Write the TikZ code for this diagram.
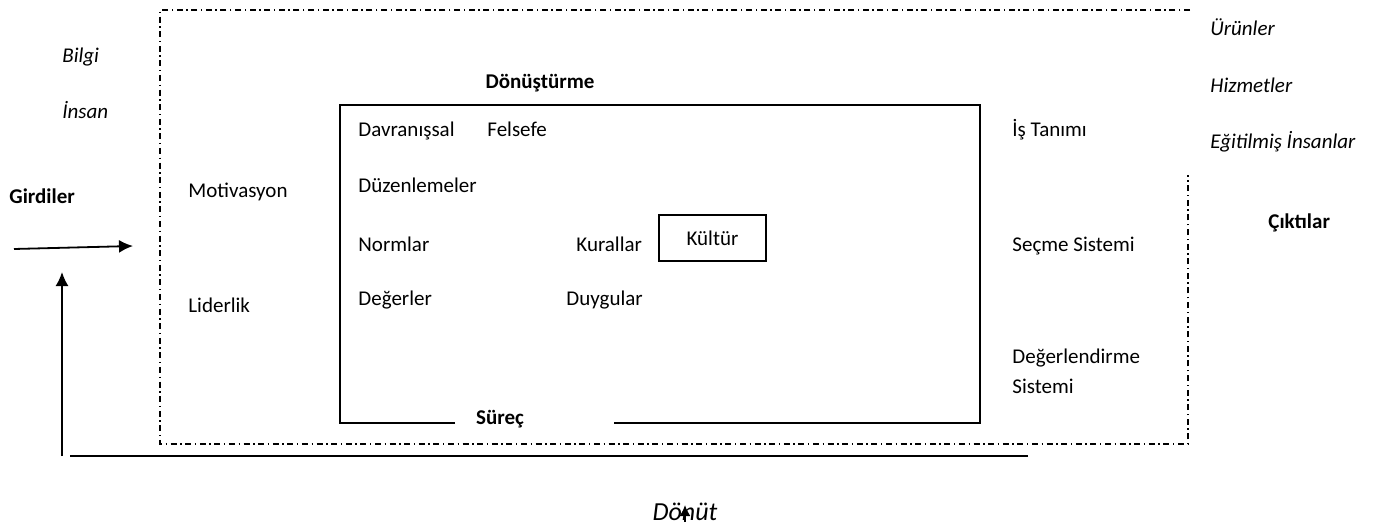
\documentclass[tikz,border=0pt]{standalone}
\usepackage{fontspec}
\setmainfont{Carlito}
\usetikzlibrary{arrows.meta}

\begin{document}
\begin{tikzpicture}[x=0.5pt,y=-0.5pt,font=\fontsize{10.5}{12.6}\selectfont,
  lbl/.style={anchor=base west,inner sep=0pt},
  ttl/.style={anchor=base,inner sep=0pt,font=\fontsize{10.5}{12.6}\selectfont\bfseries},
  dashdot/.style={line width=0.7pt,dash pattern=on 3pt off 1.8pt on 0.7pt off 1.8pt}]
  \useasboundingbox (0,0) rectangle (1375,529);
  % dash-dot frame, right side open at the top
  \coordinate (f1) at (1190,10);
  \coordinate (f2) at (160,10);
  \coordinate (f3) at (160,444);
  \coordinate (f4) at (1188,444);
  \coordinate (f5) at (1188,175);
  \draw [dashdot] (f1) -- (f2) -- (f3) -- (f4) -- (f5);
  % process box, open at the bottom for the label
  \coordinate (b1) at (455,423);
  \coordinate (b2) at (340,423);
  \coordinate (b3) at (340,105);
  \coordinate (b4) at (980,105);
  \coordinate (b5) at (980,423);
  \coordinate (b6) at (614,423);
  \draw [line width=0.9pt] (b1) -- (b2) -- (b3) -- (b4) -- (b5) -- (b6);
  \node [ttl] (surec) at (500,424) {Süreç};
  \node [ttl] (donus) at (540,89) {Dönüştürme};
  % inputs
  \node [lbl] (bilgi) at (62,63) {\itshape Bilgi};
  \node [lbl] (insan) at (62,119) {\itshape İnsan};
  \node [ttl,anchor=base west] (girdi) at (9,204) {Girdiler};
  \coordinate (g1) at (14,249);
  \coordinate (g2) at (133,246);
  \draw [->,>={Latex[length=7pt,width=6.5pt]},line width=0.9pt] (g1) -- (g2);
  \node [lbl] (motiv) at (188,198) {Motivasyon};
  \node [lbl] (lider) at (188,312) {Liderlik};
  % inside the box
  \node [lbl] (davr) at (358,137) {Davranışsal};
  \node [lbl] (fels) at (487,137) {Felsefe};
  \node [lbl] (duzen) at (358,193) {Düzenlemeler};
  \node [lbl] (norm) at (358,251) {Normlar};
  \node [lbl] (kural) at (576,251) {Kurallar};
  \node [draw,line width=0.8pt,minimum width=53.5pt,minimum height=23pt,inner sep=0pt] (kultur) at (712.5,238) {Kültür};
  \node [lbl] (deger) at (358,306) {Değerler};
  \node [lbl] (duyg) at (566,306) {Duygular};
  % right column
  \node [lbl] (istan) at (1012,137) {İş Tanımı};
  \node [lbl] (secme) at (1012,251) {Seçme Sistemi};
  \node [lbl] (degsis) at (1012,363) {Değerlendirme};
  \node [lbl] (sistem) at (1012,393) {Sistemi};
  % outputs
  \node [lbl] (urun) at (1210,36) {\itshape Ürünler};
  \node [lbl] (hizm) at (1210,93) {\itshape Hizmetler};
  \node [lbl] (egit) at (1210,149) {\itshape Eğitilmiş İnsanlar};
  \node [ttl,anchor=base west] (cikti) at (1268,228) {Çıktılar};
  % feedback
  \coordinate (d1) at (1028,456);
  \coordinate (d2) at (70,456);
  \draw [line width=0.9pt] (d1) -- (d2);
  \coordinate (d3) at (62,456);
  \coordinate (d4) at (62,272);
  \draw [->,>={Latex[length=7pt,width=6.5pt]},line width=0.9pt] (d3) -- (d4);
  \node [anchor=base,inner sep=0pt,font=\fontsize{13}{15}\selectfont\itshape] (donut) at (685,520) {Dönüt};
  \coordinate (a1) at (685,522);
  \coordinate (a2) at (685,505);
  \draw [->,>={Latex[length=5.5pt,width=5.5pt]},line width=0.9pt] (a1) -- (a2);
\end{tikzpicture}
\end{document}
